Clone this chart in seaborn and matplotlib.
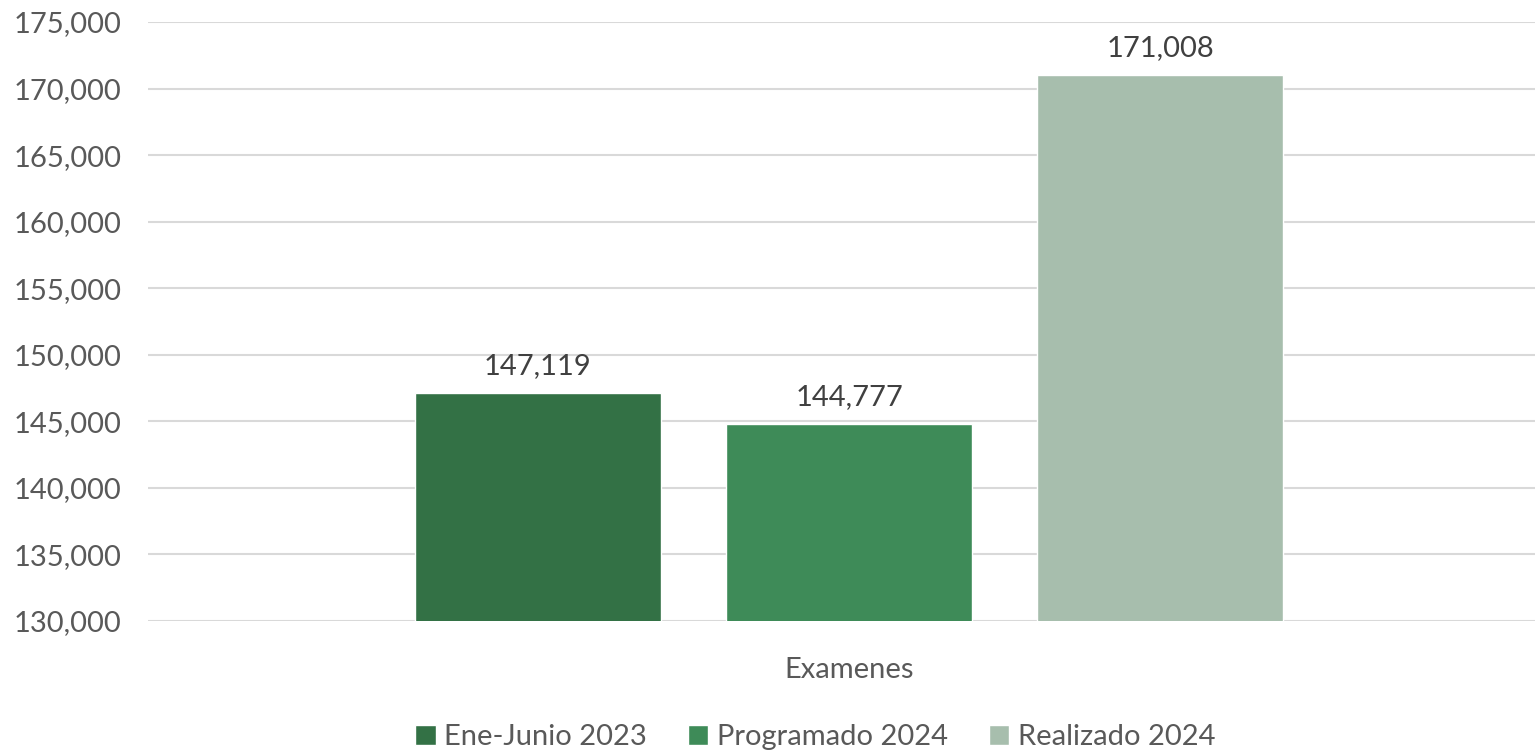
import matplotlib
matplotlib.use("Agg")
import matplotlib.pyplot as plt
import seaborn as sns
import pandas as pd
from matplotlib.ticker import FuncFormatter

# Werte aus dem Bild
categoria = ["Examenes"]
series = ["Ene-Junio 2023", "Programado 2024", "Realizado 2024"]
valores = [147119, 144777, 171008]
colores = ["#337145", "#3E8B58", "#A7BEAD"]

df = pd.DataFrame({
    "Cat": categoria * len(series),
    "Serie": series,
    "Valor": valores,
})

sns.set_theme(style="white")
plt.rcParams["font.family"] = ["Lato", "DejaVu Sans"]
texto = "#595959"

fig = plt.figure(figsize=(15.35, 7.51), dpi=100)
ax = fig.add_axes([148 / 1535, 1 - 621 / 751, (1535 - 148) / 1535, (621 - 22) / 751])

sns.barplot(data=df, x="Cat", y="Valor", hue="Serie", palette=colores,
            width=0.673, gap=0.21, saturation=1, ax=ax, legend=True)

ax.set_ylim(130000, 175000)
ax.set_xlim(-0.5055, 0.4945)
ax.set_yticks(range(130000, 175001, 5000))
ax.yaxis.set_major_formatter(FuncFormatter(lambda v, p: f"{int(v):,}"))
ax.grid(axis="y", color="#D9D9D9", linewidth=1.5)
ax.set_axisbelow(True)
for s in ax.spines.values():
    s.set_visible(False)
ax.tick_params(axis="y", length=0, labelsize=21, labelcolor=texto, pad=19)
ax.tick_params(axis="x", length=0, labelsize=21, labelcolor=texto, pad=26)
ax.set_xlabel("")
ax.set_ylabel("")

for c in ax.containers:
    ax.bar_label(c, labels=[f"{v:,.0f}" for v in c.datavalues],
                 padding=10, fontsize=21, color="#404040")

ax.legend(loc="lower center", bbox_to_anchor=(0.5 - 26 / 1387, -0.26), ncol=3,
          frameon=False, fontsize=21, labelcolor=texto, handlelength=0.7,
          handleheight=0.7, handletextpad=0.3, columnspacing=1.4)

fig.savefig("out.png", dpi=100)
